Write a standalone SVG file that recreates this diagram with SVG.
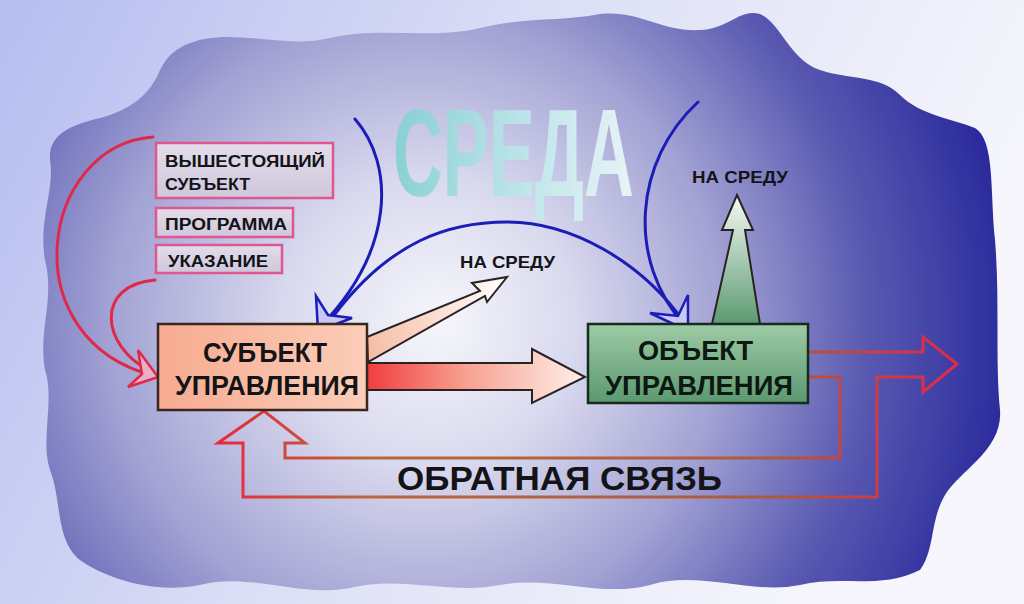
<svg xmlns="http://www.w3.org/2000/svg" width="1024" height="604" viewBox="0 0 1024 604">
<defs>
<linearGradient id="bg" x1="0" y1="0" x2="1" y2="0.3">
<stop offset="0" stop-color="#b6bdf0"/>
<stop offset="0.55" stop-color="#dfe2f6"/>
<stop offset="1" stop-color="#f6f6fc"/>
</linearGradient>
<radialGradient id="cloud" gradientUnits="userSpaceOnUse" cx="390" cy="330" r="640" fx="440" fy="320">
<stop offset="0" stop-color="#f6f6fb"/>
<stop offset="0.22" stop-color="#dadaef"/>
<stop offset="0.48" stop-color="#a2a2d4"/>
<stop offset="0.72" stop-color="#5a5ab2"/>
<stop offset="1" stop-color="#24249a"/>
</radialGradient>
<linearGradient id="sreda" x1="0" y1="0" x2="1" y2="0">
<stop offset="0" stop-color="#84d0d2"/>
<stop offset="0.5" stop-color="#b8e6e8"/>
<stop offset="1" stop-color="#eef9fa"/>
</linearGradient>
<linearGradient id="smallbox" x1="0" y1="0" x2="0" y2="1">
<stop offset="0" stop-color="#e2dcea"/>
<stop offset="1" stop-color="#cfc8dc"/>
</linearGradient>
<linearGradient id="subj" x1="0" y1="0" x2="1" y2="0">
<stop offset="0" stop-color="#f7ab90"/>
<stop offset="1" stop-color="#fbcdb8"/>
</linearGradient>
<linearGradient id="obj" x1="0" y1="0" x2="0" y2="1">
<stop offset="0" stop-color="#9ecba6"/>
<stop offset="1" stop-color="#5b9870"/>
</linearGradient>
<linearGradient id="mainArrow" gradientUnits="userSpaceOnUse" x1="367" y1="0" x2="585" y2="0">
<stop offset="0" stop-color="#ef3e3e"/>
<stop offset="0.45" stop-color="#f7a090"/>
<stop offset="1" stop-color="#fdf0ea"/>
</linearGradient>
<linearGradient id="diagArrow" gradientUnits="userSpaceOnUse" x1="367" y1="350" x2="505" y2="280">
<stop offset="0" stop-color="#f6bca4"/>
<stop offset="1" stop-color="#ffffff"/>
</linearGradient>
<linearGradient id="upArrow" gradientUnits="userSpaceOnUse" x1="0" y1="323" x2="0" y2="195">
<stop offset="0" stop-color="#5d9a72"/>
<stop offset="1" stop-color="#f4faf4"/>
</linearGradient>
<linearGradient id="fb" gradientUnits="userSpaceOnUse" x1="218" y1="0" x2="960" y2="0">
<stop offset="0" stop-color="#e8283c"/>
<stop offset="0.2" stop-color="#b8683c"/>
<stop offset="0.75" stop-color="#b0583c"/>
<stop offset="1" stop-color="#e0284c"/>
</linearGradient>
<style>
.t{font-family:"Liberation Sans",Arial,sans-serif;font-weight:bold;fill:#141418}
.small{font-size:16px}
.big{font-size:27px}
.ns{font-size:17px}
.sb{stroke:#e05690;stroke-width:2.5;fill:url(#smallbox)}
.blue{fill:none;stroke:#1c1cb8;stroke-width:3;stroke-linecap:round}
.bhead{fill:#c8c8f2;stroke:#1c1cb8;stroke-width:2.5;stroke-linejoin:miter}
.red{fill:none;stroke:#e02848;stroke-width:3;stroke-linecap:round}
.rhead{fill:#e8b0c8;stroke:#e02848;stroke-width:2.5}
.outline{stroke:#2a2222;stroke-width:2;stroke-linejoin:miter}
</style>
</defs>

<rect width="1024" height="604" fill="url(#bg)"/>
<path id="cloud-shape" fill="url(#cloud)" d="M185,45 C230,25 280,50 330,38 C380,26 430,40 480,28 C530,16 560,22 600,14 C640,10 660,32 700,30 C730,28 740,8 760,14 C780,22 790,60 820,70 C850,80 880,75 900,95 C920,115 950,118 975,128 C995,140 990,190 995,240 C1000,300 995,360 1000,410 C1003,450 960,470 945,495 C930,520 935,550 920,570 C880,590 840,575 800,585 C750,595 700,570 650,585 C600,598 550,575 500,585 C450,595 400,575 350,588 C300,598 250,572 200,585 C150,595 100,575 80,560 C55,540 62,500 50,470 C40,440 55,400 45,370 C38,330 55,300 45,260 C38,220 55,190 50,160 C48,135 70,125 100,118 C130,110 150,95 160,70 C168,55 175,50 185,45 Z"/>

<text id="sreda-title" transform="translate(393,196) scale(0.56,1)" x="0" y="0" textLength="430" lengthAdjust="spacingAndGlyphs" style="font-family:'Liberation Sans',Arial,sans-serif;font-weight:bold;font-size:124px;fill:url(#sreda);opacity:0.92">СРЕДА</text>

<g id="connectors">
  <path class="red" d="M153,137 C40,145 10,340 155,376"/>
  <path class="red" d="M155,280 C95,285 100,345 150,371"/>
  <polygon class="rhead" points="138,350 158,377 128,387 142,374"/>

  <path class="blue" d="M355,119 C395,165 395,250 320,327"/>
  <path class="blue" d="M698,102 C635,160 625,260 686,327"/>
  <path class="blue" d="M332,318 C390,240 450,222 507,222 C570,222 640,260 684,322"/>
  <polygon class="bhead" points="318,331 316,296 328,315 352,318"/>
  <polygon class="bhead" points="688,331 688,295 678,316 650,313"/>

  <polygon class="outline" fill="url(#mainArrow)" points="367,363 532,363 532,349 585,377 532,403 532,390 367,390"/>

  <polygon class="outline" fill="url(#diagArrow)" points="367,337 480,291 472,283 507,277 487,302 485,296 368,362"/>

  <polygon class="outline" fill="url(#upArrow)" points="712,324 733,230 722,230 737,195 753,230 745,230 760,324"/>

  <polyline fill="none" stroke="url(#fb)" stroke-width="3" stroke-linejoin="miter" points="808,377 840,377 840,458 285,458 285,443 305,443 264,411 218,443 243,443 243,497 877,497 877,377 923,377 923,392 957,364 923,337 923,352 808,352"/>
</g>

<g id="node-vyshestoyashchiy">
  <rect class="sb" x="156" y="143" width="177" height="55"/>
  <text class="t small" x="165" y="167" textLength="160" lengthAdjust="spacingAndGlyphs">ВЫШЕСТОЯЩИЙ</text>
  <text class="t small" x="165" y="190" textLength="85" lengthAdjust="spacingAndGlyphs">СУБЪЕКТ</text>
</g>
<g id="node-programma">
  <rect class="sb" x="156" y="208" width="137" height="29"/>
  <text class="t small" x="165" y="230" textLength="122" lengthAdjust="spacingAndGlyphs">ПРОГРАММА</text>
</g>
<g id="node-ukazanie">
  <rect class="sb" x="156" y="245" width="126" height="28"/>
  <text class="t small" x="168" y="267" textLength="100" lengthAdjust="spacingAndGlyphs">УКАЗАНИЕ</text>
</g>

<g id="node-subject">
  <rect x="158" y="324" width="209" height="86" fill="url(#subj)" stroke="#3a2620" stroke-width="2.5"/>
  <text class="t big" x="203" y="362" textLength="124" lengthAdjust="spacingAndGlyphs">СУБЪЕКТ</text>
  <text class="t big" x="175" y="395" textLength="184" lengthAdjust="spacingAndGlyphs">УПРАВЛЕНИЯ</text>
</g>

<g id="node-object">
  <rect x="588" y="324" width="220" height="79" fill="url(#obj)" stroke="#162a1e" stroke-width="2.5"/>
  <text class="t big" x="638" y="360" textLength="115" lengthAdjust="spacingAndGlyphs" style="fill:#0c1810">ОБЪЕКТ</text>
  <text class="t big" x="605" y="395" textLength="188" lengthAdjust="spacingAndGlyphs" style="fill:#0c1810">УПРАВЛЕНИЯ</text>
</g>

<g id="labels">
  <text class="t ns" x="460" y="268" textLength="95" lengthAdjust="spacingAndGlyphs">НА СРЕДУ</text>
  <text class="t ns" x="692" y="183" textLength="96" lengthAdjust="spacingAndGlyphs">НА СРЕДУ</text>
  <text class="t" x="397" y="490" textLength="325" lengthAdjust="spacingAndGlyphs" style="font-size:34px">ОБРАТНАЯ СВЯЗЬ</text>
</g>
</svg>
